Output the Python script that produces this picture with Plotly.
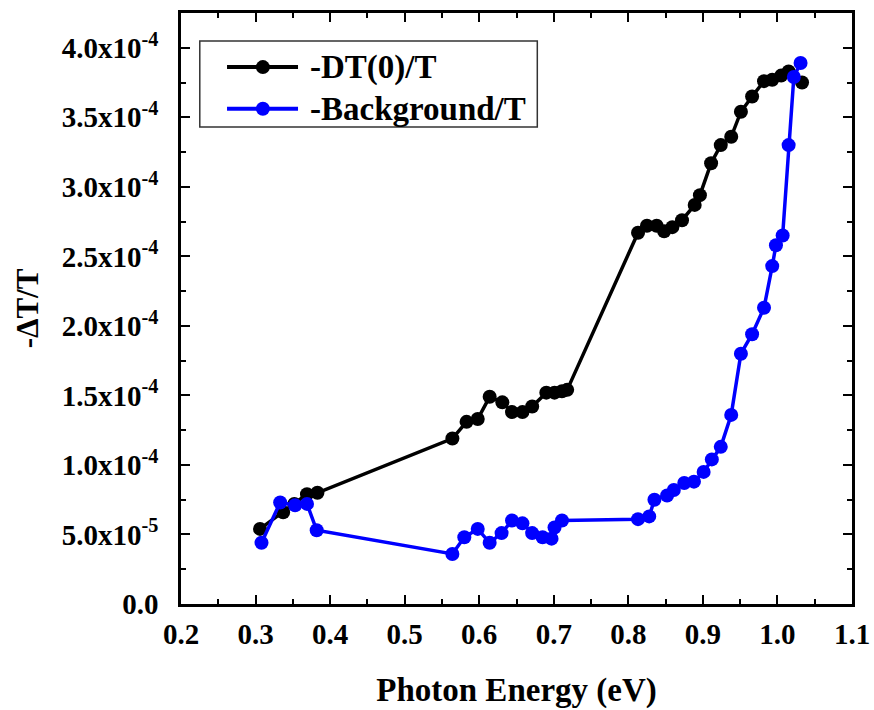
import plotly.graph_objects as go

# Photon energy (eV) and -dT/T (in units of 1e-4) for the two measured series
dt0_energy = [0.306, 0.337, 0.352, 0.369, 0.383, 0.564, 0.583, 0.598, 0.614, 0.631,
              0.644, 0.658, 0.671, 0.690, 0.701, 0.711, 0.718, 0.813, 0.825, 0.838,
              0.848, 0.859, 0.872, 0.889, 0.896, 0.911, 0.924, 0.938, 0.951, 0.966,
              0.982, 0.993, 1.005, 1.015, 1.033]
dt0_signal = [0.54, 0.66, 0.72, 0.79, 0.80, 1.19, 1.31, 1.33, 1.49, 1.45,
              1.38, 1.38, 1.42, 1.52, 1.52, 1.53, 1.54, 2.67, 2.72, 2.72,
              2.68, 2.71, 2.76, 2.87, 2.94, 3.17, 3.30, 3.36, 3.54, 3.65,
              3.76, 3.77, 3.80, 3.83, 3.75]

bg_energy = [0.308, 0.333, 0.353, 0.369, 0.382, 0.564, 0.580, 0.598, 0.614, 0.630,
             0.644, 0.658, 0.671, 0.685, 0.697, 0.701, 0.711, 0.813, 0.828, 0.835,
             0.852, 0.861, 0.875, 0.888, 0.901, 0.912, 0.924, 0.938, 0.951, 0.966,
             0.982, 0.993, 0.998, 1.007, 1.015, 1.022, 1.031]
bg_signal = [0.44, 0.73, 0.71, 0.72, 0.53, 0.36, 0.48, 0.54, 0.44, 0.51,
             0.60, 0.58, 0.51, 0.48, 0.47, 0.55, 0.60, 0.61, 0.63, 0.75,
             0.78, 0.82, 0.87, 0.88, 0.95, 1.04, 1.13, 1.36, 1.80, 1.94,
             2.13, 2.43, 2.58, 2.65, 3.30, 3.79, 3.89]

series_names = ["-DT(0)/T", "-Background/T"]
series_colors = ["#000000", "#0000FF"]

x_ticks = [0.2, 0.3, 0.4, 0.5, 0.6, 0.7, 0.8, 0.9, 1.0, 1.1]
y_ticks = [0.0, 0.5e-4, 1.0e-4, 1.5e-4, 2.0e-4, 2.5e-4, 3.0e-4, 3.5e-4, 4.0e-4]
y_tick_text = ["0.0", "5.0x10<sup>-5</sup>", "1.0x10<sup>-4</sup>", "1.5x10<sup>-4</sup>",
               "2.0x10<sup>-4</sup>", "2.5x10<sup>-4</sup>", "3.0x10<sup>-4</sup>",
               "3.5x10<sup>-4</sup>", "4.0x10<sup>-4</sup>"]

FONT = "Liberation Serif"

fig = go.Figure()
for xs, ys, name, color in [(dt0_energy, dt0_signal, series_names[0], series_colors[0]),
                            (bg_energy, bg_signal, series_names[1], series_colors[1])]:
    fig.add_trace(go.Scatter(
        x=xs, y=[v * 1e-4 for v in ys], name=name, mode="lines+markers",
        line=dict(color=color, width=3.5),
        marker=dict(color=color, size=14),
        showlegend=False,
    ))

# Legend drawn in paper coordinates
legend_rows = [0.9085, 0.838]
shapes = [dict(type="rect", xref="paper", yref="paper", x0=0.028, x1=0.531,
               y0=0.807, y1=0.9526, line=dict(color="#333333", width=1.5),
               fillcolor="white", layer="above")]
annotations = []
for row_y, name, color in zip(legend_rows, series_names, series_colors):
    shapes.append(dict(type="line", xref="paper", yref="paper", x0=0.0686, x1=0.1744,
                       y0=row_y, y1=row_y, line=dict(color=color, width=4), layer="above"))
    shapes.append(dict(type="circle", xref="paper", yref="paper",
                       xsizemode="pixel", ysizemode="pixel", xanchor=0.122, yanchor=row_y,
                       x0=-7, x1=7, y0=-7, y1=7,
                       fillcolor=color, line=dict(color=color, width=0), layer="above"))
    annotations.append(dict(xref="paper", yref="paper", x=0.189, y=row_y, text=name,
                            showarrow=False, xanchor="left", yanchor="middle",
                            font=dict(family=FONT, size=33, color="black", weight="bold")))

axis_common = dict(
    showline=True, linecolor="black", linewidth=2.5, mirror="allticks",
    ticks="inside", ticklen=9, tickwidth=2, tickcolor="black",
    showgrid=False, zeroline=False, automargin=False,
    tickfont=dict(family=FONT, size=29, color="black", weight="bold"),
)

fig.update_xaxes(
    range=[0.2, 1.1], tickmode="array", tickvals=x_ticks,
    ticktext=[f"{v:.1f}" for v in x_ticks],
    minor=dict(ticks="inside", ticklen=5, tickwidth=2, tickcolor="black",
               tickmode="linear", tick0=0.2, dtick=0.05),
    title=dict(text="Photon Energy (eV)", standoff=30,
               font=dict(family=FONT, size=33, color="black", weight="bold")),
    ticklabelstandoff=2,
    **axis_common,
)
fig.update_yaxes(
    range=[0, 4.25e-4], tickmode="array", tickvals=y_ticks, ticktext=y_tick_text,
    minor=dict(ticks="inside", ticklen=5, tickwidth=2, tickcolor="black",
               tickmode="linear", tick0=0, dtick=0.25e-4),
    title=dict(text="-ΔT/T", standoff=14,
               font=dict(family=FONT, size=31, color="black", weight="bold")),
    ticklabelstandoff=14,
    **axis_common,
)

fig.update_layout(
    width=874, height=710,
    margin=dict(l=181, r=22, t=13, b=106),
    paper_bgcolor="white", plot_bgcolor="white",
    shapes=shapes, annotations=annotations,
)

fig.write_html("out.html")
